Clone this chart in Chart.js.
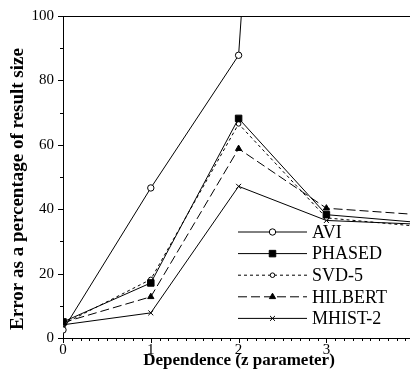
<!DOCTYPE html>
<html>
<head>
<meta charset="utf-8">
<script src="https://cdn.jsdelivr.net/npm/chart.js@4/dist/chart.umd.min.js"></script>
<style>
  html, body { margin: 0; padding: 0; background: #fff; overflow: hidden; }
  #wrap { width: 440px; height: 380px; }
</style>
</head>
<body>
<div id="wrap"><canvas id="myChart" width="440" height="380"></canvas></div>
<script>
// z parameter values
const zValues = [0, 1, 2, 3, 4];

// error as % of result size
const aviErr = [2.5, 46.6, 87.8, 490];
const phasedErr = [5.0, 17.1, 68.2, 38.3, 36.0];
const svdErr = [4.3, 18.2, 66.5, 37.3, 34.8];
const hilbertErr = [4.8, 12.8, 58.8, 40.3, 38.4];
const mhistErr = [4.1, 7.8, 47.1, 36.5, 35.4];

const seriesNames = ["AVI", "PHASED", "SVD-5", "HILBERT", "MHIST-2"];
const xTitle = "Dependence (z parameter)";
const yTitle = "Error as a percentage of result size";

const serif = "'Liberation Serif', 'DejaVu Serif', serif";

function toPoints(arr) {
  return arr.map((v, i) => ({ x: zValues[i], y: v }));
}

function makeSet(label, values, style) {
  return Object.assign({
    label: label,
    data: toPoints(values),
    borderColor: "#000",
    borderWidth: 1,
    pointBorderColor: "#000",
    pointBorderWidth: 1,
    tension: 0,
    fill: false,
  }, style);
}

const datasets = [
  makeSet(seriesNames[0], aviErr, { pointStyle: "circle", pointRadius: 3.2, pointBackgroundColor: "#fff" }),
  makeSet(seriesNames[1], phasedErr, { pointStyle: "rect", pointRadius: 4.6, pointBackgroundColor: "#000" }),
  makeSet(seriesNames[2], svdErr, { pointStyle: "circle", pointRadius: 2.3, pointBackgroundColor: "#fff", borderDash: [3, 3] }),
  makeSet(seriesNames[3], hilbertErr, { pointStyle: "triangle", pointRadius: 3.6, pointBackgroundColor: "#000", borderDash: [9, 4] }),
  makeSet(seriesNames[4], mhistErr, { pointStyle: "crossRot", pointRadius: 3.5, pointBackgroundColor: "#000" }),
];

// ticks drawn by hand so majors and minors get different lengths
const tickMarks = {
  id: "tickMarks",
  afterDraw(chart) {
    const ctx = chart.ctx;
    const area = chart.chartArea;
    ctx.save();
    ctx.strokeStyle = "#000";
    ctx.lineWidth = 1;
    ctx.beginPath();
    // top frame line
    ctx.moveTo(area.left, Math.round(area.top) + 0.5);
    ctx.lineTo(area.right, Math.round(area.top) + 0.5);

    const xs = chart.scales.x;
    xs.ticks.forEach((t) => {
      const px = Math.round(xs.getPixelForValue(t.value)) + 0.5;
      const major = Math.abs(t.value - Math.round(t.value)) < 1e-6;
      ctx.moveTo(px, area.bottom);
      ctx.lineTo(px, area.bottom + (major ? 5 : 3));
    });
    const ys = chart.scales.y;
    ys.ticks.forEach((t) => {
      const py = Math.round(ys.getPixelForValue(t.value)) + 0.5;
      const major = Math.round(t.value) % 20 === 0;
      ctx.moveTo(area.left, py);
      ctx.lineTo(area.left - (major ? 5 : 3), py);
    });
    ctx.stroke();

    // axis titles, placed like the original figure
    ctx.fillStyle = "#000";
    ctx.textAlign = "center";
    ctx.textBaseline = "middle";
    ctx.font = "bold 17px " + serif;
    ctx.fillText(xTitle, 239, 361);
    ctx.translate(18, 189);
    ctx.rotate(-Math.PI / 2);
    ctx.font = "bold 19px " + serif;
    ctx.fillText(yTitle, 0, 0);
    ctx.restore();
  },
};

// legend box in lower right of the plot
const innerLegend = {
  id: "innerLegend",
  afterDraw(chart) {
    const ctx = chart.ctx;
    const x0 = 238, x1 = 307, rowTop = 232, rowStep = 21.6;
    ctx.save();
    ctx.font = "18px " + serif;
    ctx.textBaseline = "middle";
    ctx.fillStyle = "#000";
    chart.data.datasets.forEach((ds, i) => {
      const y = rowTop + i * rowStep;
      ctx.strokeStyle = "#000";
      ctx.lineWidth = 1;
      ctx.setLineDash(ds.borderDash || []);
      ctx.beginPath();
      ctx.moveTo(x0, y);
      ctx.lineTo(x1, y);
      ctx.stroke();
      ctx.setLineDash([]);
      ctx.fillStyle = ds.pointBackgroundColor;
      Chart.helpers.drawPoint(ctx, {
        pointStyle: ds.pointStyle,
        radius: ds.pointRadius,
        rotation: 0,
        borderWidth: 1,
      }, (x0 + x1) / 2, y);
      ctx.fillStyle = "#000";
      ctx.fillText(ds.label, x1 + 5, y + 1);
    });
    ctx.restore();
  },
};

const ctx = document.getElementById("myChart").getContext("2d");
const mainChart = new Chart(ctx, {
  type: "line",
  data: { datasets: datasets },
  options: {
    responsive: false,
    animation: false,
    layout: { padding: { top: 16, right: 1, left: 0, bottom: 0 } },
    plugins: {
      legend: { display: false },
      tooltip: { enabled: false },
    },
    scales: {
      x: {
        type: "linear",
        min: 0,
        max: 4.23,
        grid: { display: false, drawTicks: false },
        border: { display: true, color: "#000", width: 1 },
        ticks: {
          stepSize: 0.1,
          autoSkip: false,
          maxRotation: 0,
          padding: 3,
          color: "#000",
          font: { family: serif, size: 15 },
          callback: (v) => (Math.abs(v - Math.round(v)) < 1e-6 ? String(Math.round(v)) : ""),
        },
        afterFit: (s) => {
          s.height = 42;
          s.paddingLeft = 0;
          s.paddingRight = 0;
        },
      },
      y: {
        min: 0,
        max: 100,
        grid: { display: false, drawTicks: false },
        border: { display: true, color: "#000", width: 1 },
        ticks: {
          stepSize: 10,
          autoSkip: false,
          padding: 9,
          color: "#000",
          font: { family: serif, size: 15 },
          callback: (v) => (Math.round(v) % 20 === 0 ? String(v) : ""),
        },
        afterFit: (s) => {
          s.width = 63;
          s.paddingTop = 0;
          s.paddingBottom = 0;
        },
      },
    },
  },
  plugins: [tickMarks, innerLegend],
});
</script>
</body>
</html>
